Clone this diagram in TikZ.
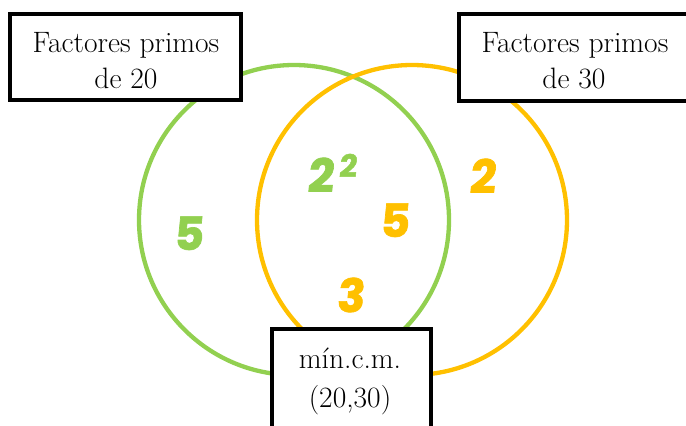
\documentclass[tikz,border=0pt]{standalone}
\usepackage{fontspec}
\newfontfamily\numfont{Poppins}[BoldFeatures={FakeSlant=0.1,FakeBold=1.5}]
\definecolor{vgreen}{HTML}{92D050}
\definecolor{vorange}{HTML}{FFC000}
\tikzset{
  circ/.style={line width=4.3pt},
  labbox/.style={draw=black, line width=4pt, fill=white},
  labtxt/.style={inner sep=0pt, anchor=base, font=\fontsize{29.5}{36}\selectfont},
  num/.style={inner sep=0pt, anchor=base, font=\numfont\bfseries\fontsize{46}{50}\selectfont},
  supnum/.style={inner sep=0pt, anchor=base, font=\numfont\bfseries\fontsize{31}{34}\selectfont},
}
\begin{document}
\begin{tikzpicture}[x=1pt,y=-1pt]
\useasboundingbox (0,0) rectangle (686,426);
\clip (0,0) rectangle (686,426);
% circles
\node[circ, draw=vgreen, circle, minimum size=310pt, inner sep=0pt] (cA) at (294,220) {};
\node[circ, draw=vorange, circle, minimum size=310pt, inner sep=0pt] (cB) at (412,220) {};
% boxes
\node[labbox, minimum width=231.5pt, minimum height=85.5pt, inner sep=0pt] (b1) at (125.25,56.75) {};
\node[labbox, minimum width=241pt, minimum height=87pt, inner sep=0pt] (b2) at (579.5,57.5) {};
\node[labbox, minimum width=159.3pt, minimum height=120pt, inner sep=0pt] (b3) at (351.35,389.3) {};
% box texts
\node[labtxt] (t1a) at (126,52) {Factores primos};
\node[labtxt] (t1b) at (126,88) {de 20};
\node[labtxt] (t2a) at (575,52) {Factores primos};
\node[labtxt] (t2b) at (574,88) {de 30};
\node[labtxt] (t3a) at (350,368) {mín.c.m.};
\node[labtxt] (t3b) at (350,407) {(20,30)};
% numbers
\node[num, text=vgreen] (g5) at (188,250) {5};
\node[num, text=vgreen] (g2) at (320,192) {2};
\node[supnum, text=vgreen] (g2s) at (347.5,177) {2};
\node[num, text=vorange] (o5) at (394,237) {5};
\node[num, text=vorange] (o2) at (482,193) {2};
\node[num, text=vorange] (o3) at (350,312) {3};
\end{tikzpicture}
\end{document}
